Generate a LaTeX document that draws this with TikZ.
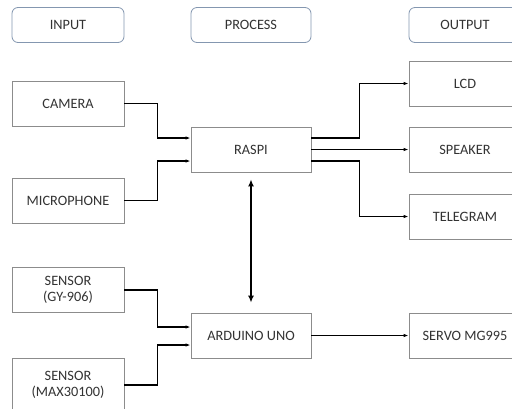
\documentclass[tikz,border=0pt]{standalone}
\usepackage{fontspec}
\setmainfont{Carlito}
\usetikzlibrary{arrows.meta}
\definecolor{boxgray}{HTML}{8C8C8C}
\definecolor{hdrblue}{HTML}{8497B0}
\definecolor{txt}{HTML}{333333}
\begin{document}
\begin{tikzpicture}[x=1pt,y=-1pt,
  box/.style={draw=boxgray, line width=0.8pt, minimum width=112pt, minimum height=45pt,
    text=txt, font=\fontsize{14.3}{16.5}\selectfont, align=center, inner sep=0pt},
  wbox/.style={box, minimum width=120pt},
  hdr/.style={box, draw=hdrblue, rounded corners=6pt, minimum height=35pt},
  conn/.style={line width=1.1pt, -{Latex[length=5pt,width=3.5pt]}},
  dbl/.style={line width=2.2pt, {Latex[length=7pt,width=6pt]}-{Latex[length=7pt,width=6pt]}}]
\clip (0,0) rectangle (512,408);
\fill[white] (0,0) rectangle (512,408);
% headers
\node[hdr] (hin) at (68,25) {INPUT};
\node[hdr, minimum width=120pt] (hproc) at (251,25) {PROCESS};
\node[hdr] (hout) at (465,25) {OUTPUT};
% inputs
\node[box] (cam) at (68,103.5) {CAMERA};
\node[box] (mic) at (68,200.5) {MICROPHONE};
\node[box] (gy) at (68,290) {SENSOR\\(GY-906)};
\node[box, minimum height=54pt] (max) at (68,385) {SENSOR\\(MAX30100)};
% process
\node[wbox] (raspi) at (251,149.5) {RASPI};
\node[wbox] (ard) at (251,335.5) {ARDUINO UNO};
% outputs
\node[box] (lcd) at (465,83.5) {LCD};
\node[box] (spk) at (465,149.5) {SPEAKER};
\node[box] (tel) at (465,216.5) {TELEGRAM};
\node[box] (servo) at (465,335.5) {SERVO MG995};
% connectors
\draw[conn] (cam.east) -- ++(33,0) |- ([yshift=11.5pt]raspi.west);
\draw[conn] (mic.east) -- ++(33,0) |- ([yshift=-11.5pt]raspi.west);
\draw[conn] ([yshift=11.5pt]raspi.east) -- ++(48,0) |- (lcd.west);
\draw[conn] (raspi.east) -- (spk.west);
\draw[conn] ([yshift=-11.5pt]raspi.east) -- ++(48,0) |- (tel.west);
\draw[conn] (gy.east) -- ++(33,0) |- ([yshift=8.5pt]ard.west);
\draw[conn] (max.east) -- ++(33,0) |- ([yshift=-9.5pt]ard.west);
\draw[conn] (ard.east) -- (servo.west);
\draw[dbl] ([yshift=-7pt]raspi.south) -- ([yshift=10pt]ard.north);
\end{tikzpicture}
\end{document}
